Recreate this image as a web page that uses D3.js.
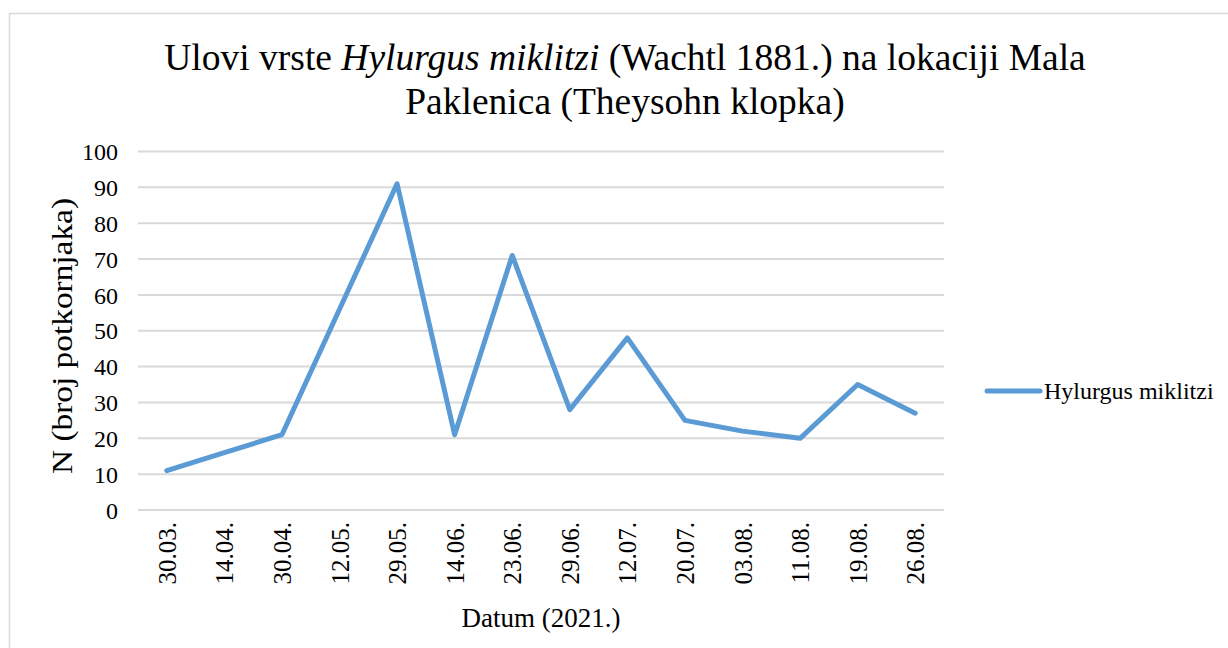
<!DOCTYPE html>
<html>
<head>
<meta charset="utf-8">
<script src="https://cdn.jsdelivr.net/npm/d3@7"></script>
<style>
    html, body { margin: 0; padding: 0; background: #fff; }
</style>
</head>
<body>
<svg id="chart" width="1228" height="648"></svg>
<script>
// Datumi uzorkovanja (2021.)
var dates = ["30.03.", "14.04.", "30.04.", "12.05.", "29.05.", "14.06.", "23.06.",
             "29.06.", "12.07.", "20.07.", "03.08.", "11.08.", "19.08.", "26.08."];
// Broj potkornjaka po datumu
var catches = [11, 16, 21, 56, 91, 21, 71, 28, 48, 25, 22, 20, 35, 27];
var yTicks = [0, 10, 20, 30, 40, 50, 60, 70, 80, 90, 100];
var seriesName = "Hylurgus miklitzi";

var FONT = "'Liberation Serif', 'Times New Roman', serif";

var svg = d3.select("#chart");

// okvir grafikona
svg.append("rect")
    .attr("x", 9.5).attr("y", 13.5)
    .attr("width", 1240).attr("height", 660)
    .attr("fill", "#fff")
    .attr("stroke", "#d9d9d9").attr("stroke-width", 1.5);

var plot = {left: 138, right: 944, top: 151.5, bottom: 510};

var x = d3.scalePoint()
    .domain(dates)
    .range([plot.left, plot.right])
    .padding(0.5);

var y = d3.scaleLinear()
    .domain([0, 100])
    .range([plot.bottom, plot.top]);

// mreza
svg.append("g")
    .selectAll("line")
    .data(yTicks)
    .enter().append("line")
        .attr("x1", plot.left).attr("x2", plot.right)
        .attr("y1", function(d) { return y(d); })
        .attr("y2", function(d) { return y(d); })
        .attr("stroke", "#d9d9d9").attr("stroke-width", 2);

// y os
var yAxis = svg.append("g")
    .attr("transform", "translate(" + (plot.left - 20) + ",0)")
    .call(d3.axisLeft(y).tickValues(yTicks).tickSize(0).tickPadding(0));
yAxis.select(".domain").remove();
yAxis.selectAll("text")
    .style("font-family", FONT)
    .style("font-size", "24px")
    .attr("fill", "#000")
    .attr("dy", "0.34em");

// x os
var xAxis = svg.append("g")
    .attr("transform", "translate(0," + plot.bottom + ")")
    .call(d3.axisBottom(x).tickSize(0).tickPadding(0));
xAxis.select(".domain").remove();
xAxis.selectAll("text")
    .style("font-family", FONT)
    .style("font-size", "25px")
    .attr("fill", "#000")
    .attr("text-anchor", "end")
    .attr("transform", "rotate(-90)")
    .attr("x", -12)
    .attr("y", 0)
    .attr("dy", "0.34em");

// linija
var line = d3.line()
    .x(function(d, i) { return x(dates[i]); })
    .y(function(d) { return y(d); });

svg.append("path")
    .datum(catches)
    .attr("d", line)
    .attr("fill", "none")
    .attr("stroke", "#5b9bd5")
    .attr("stroke-width", 5)
    .attr("stroke-linejoin", "round")
    .attr("stroke-linecap", "round");

// naslov
var title = svg.append("text")
    .attr("text-anchor", "middle")
    .style("font-family", FONT)
    .style("font-size", "37.5px");
var t1 = title.append("tspan").attr("x", 625).attr("y", 70);
t1.append("tspan").text("Ulovi vrste ");
t1.append("tspan").attr("font-style", "italic").text("Hylurgus miklitzi");
t1.append("tspan").text(" (Wachtl 1881.) na lokaciji Mala");
title.append("tspan").attr("x", 625).attr("y", 114).text("Paklenica (Theysohn klopka)");

// naslovi osi
svg.append("text")
    .attr("text-anchor", "middle")
    .style("font-family", FONT)
    .style("font-size", "27px")
    .attr("x", (plot.left + plot.right) / 2)
    .attr("y", 627)
    .text("Datum (2021.)");

// u originalu je naslov y osi malo izduzen
svg.append("text")
    .attr("text-anchor", "middle")
    .style("font-family", FONT)
    .style("font-size", "29px")
    .attr("transform", "translate(72,336) rotate(-90) scale(1.15,1)")
    .text("N (broj potkornjaka)");

// legenda
var legend = svg.append("g").attr("transform", "translate(987,391)");
legend.append("line")
    .attr("x1", 0).attr("x2", 53)
    .attr("stroke", "#5b9bd5").attr("stroke-width", 5)
    .attr("stroke-linecap", "round");
legend.append("text")
    .attr("x", 57).attr("dy", "0.34em")
    .style("font-family", FONT)
    .style("font-size", "24px")
    .text(seriesName);
</script>
</body>
</html>
